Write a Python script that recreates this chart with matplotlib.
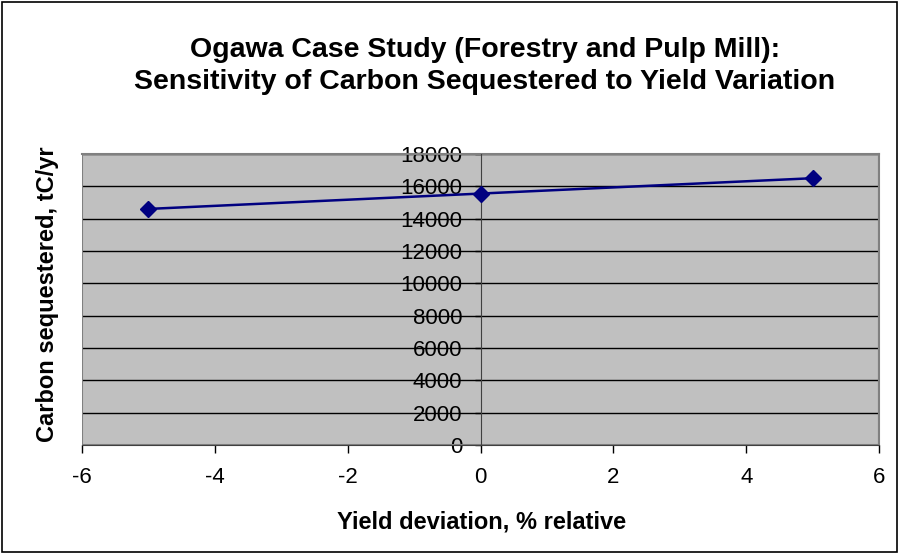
#!/usr/bin/env python3
"""Ogawa case study: carbon sequestered vs yield deviation (Excel-style chart)."""

import matplotlib
matplotlib.use("Agg")
import matplotlib.pyplot as plt
from matplotlib.patches import Rectangle

# data
yield_dev = [-5, 0, 5]
carbon = [14600, 15550, 16500]
x_ticks = [-6, -4, -2, 0, 2, 4, 6]
y_ticks = list(range(0, 18001, 2000))

title = ("Ogawa Case Study (Forestry and Pulp Mill):\n"
         "Sensitivity of Carbon Sequestered to Yield Variation")
xlabel = "Yield deviation, % relative"
ylabel = "Carbon sequestered, tC/yr"

plt.rcParams["font.family"] = ["Liberation Sans", "DejaVu Sans"]

fig = plt.figure(figsize=(8.99, 5.54), dpi=100)
ax = fig.add_axes([0.0912, 0.1968, 0.8866, 0.5253])

ax.set_facecolor("#C0C0C0")
ax.plot(yield_dev, carbon, color="#000080", linewidth=1.8,
        marker="D", markersize=8.5, zorder=5)

ax.set_xlim(-6, 6)
ax.set_ylim(0, 18000)

ax.grid(axis="y", color="black", linewidth=1.0)
ax.set_axisbelow(True)

# y axis crosses at x = 0, like Excel
ax.spines["left"].set_position(("data", 0))
ax.spines["left"].set_color("#404040")
ax.spines["left"].set_zorder(3)
for side in ("top", "right"):
    ax.spines[side].set_color("#808080")
    ax.spines[side].set_linewidth(1.5)
ax.spines["bottom"].set_color("#404040")

ax.set_xticks(x_ticks)
ax.set_yticks(y_ticks)
ax.set_xticklabels([str(t) for t in x_ticks])
ax.set_yticklabels([str(t) for t in y_ticks])
ax.tick_params(axis="y", length=4, width=1, pad=9, direction="out",
               labelsize=16)
ax.tick_params(axis="x", length=6, width=1, pad=10, direction="out",
               labelsize=16)

# plot-area border
ax.add_patch(Rectangle((0, 0), 1, 1, transform=ax.transAxes, fill=False,
                       edgecolor="#808080", linewidth=1.5, zorder=1))

fig.text(0.5395, 0.8805, title, ha="center", va="center", fontsize=20.5,
         fontweight="bold", linespacing=1.3)
fig.text(0.5356, 0.058, xlabel, ha="center", va="center", fontsize=17,
         fontweight="bold")
fig.text(0.053, 0.469, ylabel, ha="center", va="center", rotation=90,
         fontsize=17, fontweight="bold")

# outer chart border
fig.patches.append(Rectangle((0.002, 0.003), 0.996, 0.994,
                             transform=fig.transFigure, fill=False,
                             edgecolor="black", linewidth=1.2))

fig.savefig("out.png", dpi=100)
